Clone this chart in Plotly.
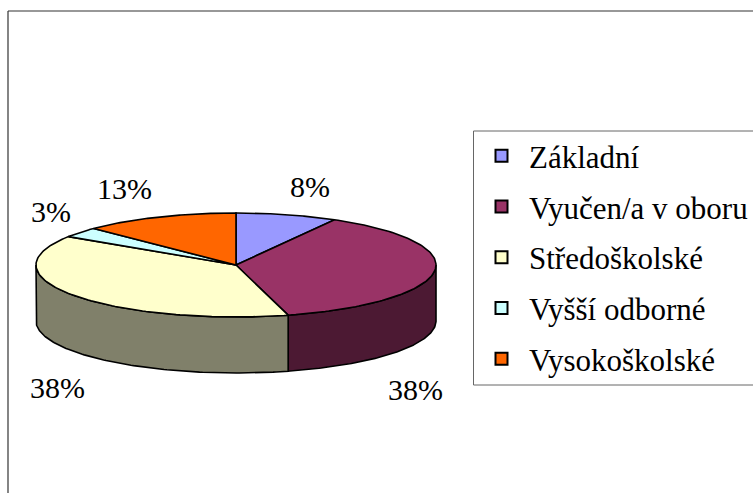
import numpy as np
import plotly.graph_objects as go

categories = ["Základní", "Vyučen/a v oboru", "Středoškolské", "Vyšší odborné", "Vysokoškolské"]
values = [8.2, 37.6, 38.4, 3.2, 12.6]
top_colors = ["#9999FF", "#993366", "#FFFFCC", "#CCFFFF", "#FF6600"]
side_colors = ["#4C4C80", "#4C1933", "#80806A", "#668080", "#803300"]

W, H = 753, 493
CX, CY, RX, RY, DEPTH = 236, 265, 200, 52, 56
FONT = "Liberation Serif"

def ell(theta_deg, dy=0.0):
    t = np.radians(theta_deg)
    return CX + RX * np.sin(t), CY - RY * np.cos(t) + dy

fig = go.Figure()
edges = np.cumsum([0] + values) / sum(values) * 360.0
line = dict(color="black", width=1.6)

# side walls (only the front half, 90..270 degrees clockwise from the top)
for i, v in enumerate(values):
    a, b = max(edges[i], 90.0), min(edges[i + 1], 270.0)
    if a >= b:
        continue
    th = np.linspace(a, b, 120)
    x1, y1 = ell(th)
    x2, y2 = ell(th[::-1], DEPTH)
    fig.add_trace(go.Scatter(
        x=np.r_[x1, x2, x1[0]], y=np.r_[y1, y2, y1[0]], mode="lines", fill="toself",
        fillcolor=side_colors[i], line=line, showlegend=False, hoverinfo="skip"))

# top face
for i, v in enumerate(values):
    th = np.linspace(edges[i], edges[i + 1], 120)
    x1, y1 = ell(th)
    fig.add_trace(go.Scatter(
        x=np.r_[CX, x1, CX], y=np.r_[CY, y1, CY], mode="lines", fill="toself",
        fillcolor=top_colors[i], line=line, showlegend=False, hoverinfo="skip"))

# legend entries
for name, color in zip(categories, top_colors):
    fig.add_trace(go.Scatter(
        x=[None], y=[None], mode="markers", name=name, legendgroup=name,
        marker=dict(symbol="square", size=17, color=color, line=dict(color="black", width=1.5))))

label_xy = [(310, 186), (415, 389), (57, 387), (51, 211), (124, 188)]
annotations = [
    dict(x=x, y=y, text=f"{v:.0f}%", showarrow=False, xref="x", yref="y",
         font=dict(family=FONT, size=30, color="black"))
    for (x, y), v in zip(label_xy, values)
]

fig.update_layout(
    width=W, height=H, autosize=False,
    margin=dict(l=0, r=0, t=0, b=0, autoexpand=False),
    paper_bgcolor="white", plot_bgcolor="white",
    xaxis=dict(range=[0, W], visible=False, fixedrange=True),
    yaxis=dict(range=[H, 0], visible=False, fixedrange=True),
    annotations=annotations,
    shapes=[
        dict(type="line", x0=8, x1=W, y0=11, y1=11, xref="x", yref="y", line=dict(color="#333333", width=1.2)),
        dict(type="line", x0=8, x1=8, y0=11, y1=H, xref="x", yref="y", line=dict(color="#333333", width=1.2)),
        dict(type="rect", x0=473.5, x1=W + 5, y0=131, y1=385, xref="x", yref="y", line=dict(color="#666666", width=1)),
    ],
    legend=dict(
        x=474 / W, y=1 - 129 / H, xanchor="left", yanchor="top",
        bgcolor="rgba(0,0,0,0)", borderwidth=0,
        font=dict(family=FONT, size=31, color="black"),
        tracegroupgap=7.5, itemsizing="constant", itemwidth=45,
        entrywidth=235, entrywidthmode="pixels",
        itemclick=False, itemdoubleclick=False,
    ),
    showlegend=True,
)
fig.write_html("out.html", config=dict(displayModeBar=False),
               post_script="document.body.style.margin='0';document.documentElement.style.overflow='hidden';")
